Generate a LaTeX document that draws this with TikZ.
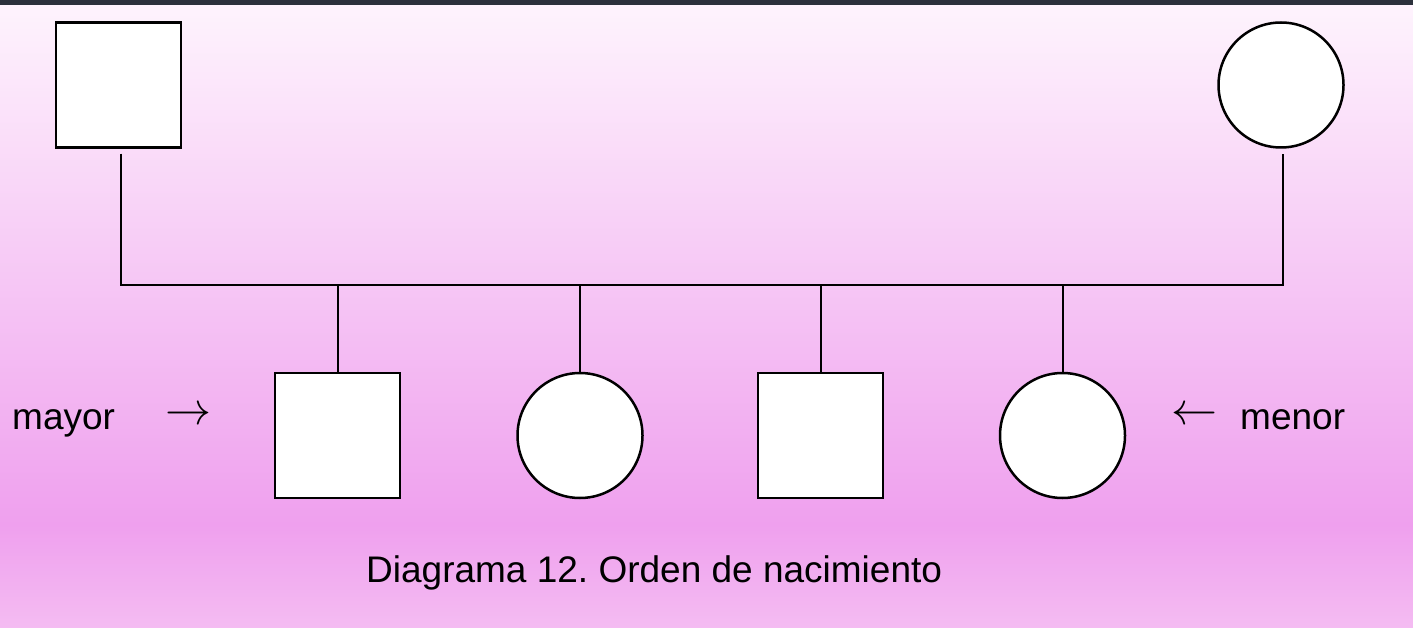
\documentclass[tikz,border=0pt]{standalone}
\usepackage{fontspec}
\setmainfont{Liberation Sans}
\definecolor{bgtop}{HTML}{FEF4FD}
\definecolor{bgmid}{HTML}{EFA0EE}
\definecolor{bgbot}{HTML}{F4BCF2}
\definecolor{topbar}{HTML}{2C313C}
\tikzset{
  male/.style={draw=black, line width=2.5pt, fill=white, rectangle, minimum size=125pt, inner sep=0pt},
  female/.style={draw=black, line width=2.5pt, fill=white, circle, minimum size=125pt, inner sep=0pt},
  link/.style={draw=black, line width=2pt},
  lbl/.style={inner sep=0pt, font=\fontsize{37pt}{44pt}\selectfont},
  arr/.style={inner sep=0pt}
}
\begin{document}
\frenchspacing
\begin{tikzpicture}[x=1pt,y=-1pt]
\useasboundingbox (0,0) rectangle (1413,628);
\shade[top color=bgtop, bottom color=bgmid] (0,0) rectangle (1413,525);
\shade[top color=bgmid, bottom color=bgbot] (0,524.5) rectangle (1413,628);
\fill[topbar] (0,0) rectangle (1413,5);
% parents
\node[male] (fa) at (118.5,85) {};
\node[female] (mo) at (1281,85) {};
% children
\node[male] (c1) at (337.5,435.5) {};
\node[female] (c2) at (580,435.5) {};
\node[male] (c3) at (820.5,435.5) {};
\node[female] (c4) at (1062.5,435.5) {};
\coordinate (jl) at (121,285);
\coordinate (jr) at (1283,285);
\draw[link, shorten <=5pt, shorten >=5pt] (fa.south -| jl) -- (jl) -- (jr) -- (mo.south -| jr);
\foreach \c in {c1,c2,c3,c4}{
  \draw[link] (\c.north) -- (\c.north |- jl);
}
% labels
\node[lbl, anchor=base west] (may) at (12,429) {mayor};
\node[arr] (ra) at (188,416.5) {\resizebox{46pt}{!}{$\rightarrow$}};
\node[arr] (la) at (1194.5,416.5) {\resizebox{46pt}{!}{$\leftarrow$}};
\node[lbl, anchor=base west] (men) at (1240,429) {menor};
\node[lbl, anchor=base west] (cap) at (366,582) {Diagrama 12. Orden de nacimiento};
\end{tikzpicture}
\end{document}
